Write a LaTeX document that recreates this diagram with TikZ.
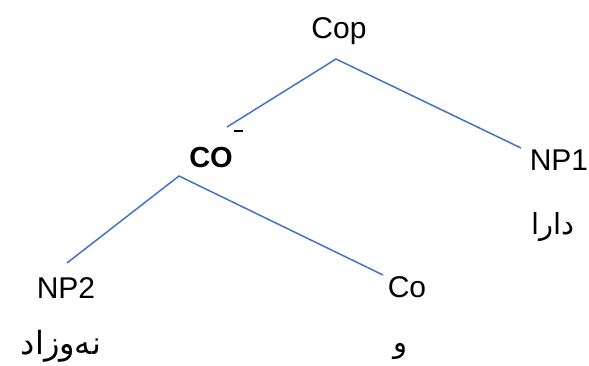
\documentclass[tikz,border=0pt]{standalone}
\usepackage{fontspec}
\setmainfont{Liberation Sans}
\newfontfamily\arabicfont[Script=Arabic]{DejaVu Sans}
\TeXXeTstate=1
\definecolor{branchblue}{HTML}{4472C4}
\tikzset{
    label/.style={inner sep=0pt, anchor=base, font=\fontsize{30}{34}\selectfont},
    word/.style={inner sep=0pt, font=\arabicfont\fontsize{29}{33}\selectfont},
    branch/.style={draw=branchblue, line width=1.5pt}
}
\begin{document}
\begin{tikzpicture}[x=1pt, y=-1pt]
    \useasboundingbox (0, 0) rectangle (589, 365);

    % Racine
    \node[label] (cop) at (339, 38) {Cop};

    % Niveau intermédiaire
    \node[label, font=\bfseries\fontsize{29}{33}\selectfont] (co) at (211, 167) {CO};
    \node[inner sep=0pt] (bar) at (238, 131) {\rule{9pt}{1.1pt}};
    \node[label] (np1) at (559, 170) {NP1};
    \node[word] (dara) at (553, 227) {\beginR دارا\endR};

    % Feuilles
    \node[label] (np2) at (66, 298) {NP2};
    \node[word, font=\arabicfont\fontsize{32}{36}\selectfont] (newzad) at (61, 346) {\beginR نەوزاد\endR};
    \node[label] (colow) at (407, 297) {Co};
    \node[word] (wa) at (400, 351) {\beginR و\endR};

    % Points d'attache des branches
    \coordinate (copTop) at (336, 59);
    \coordinate (copLeft) at (227, 127);
    \coordinate (copRight) at (521, 148);
    \coordinate (coTop) at (179, 176);
    \coordinate (coLeft) at (67, 263);
    \coordinate (coRight) at (383, 275);

    % Branches
    \draw[branch] (copLeft) -- (copTop) -- (copRight);
    \draw[branch] (coLeft) -- (coTop) -- (coRight);

\end{tikzpicture}
\end{document}
